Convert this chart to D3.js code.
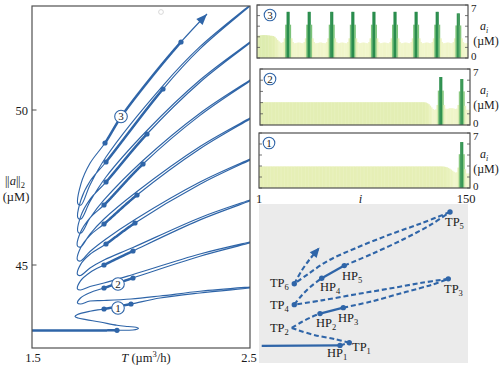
<!DOCTYPE html>
<html><head><meta charset="utf-8">
<script src="https://cdn.jsdelivr.net/npm/d3@7/dist/d3.min.js"></script>
<style>
html,body{margin:0;padding:0;background:#fff;}
svg{display:block;}
text{font-family:"Liberation Serif","Times New Roman",serif;fill:#1a1a1a;}
</style></head><body>
<svg id="chart" width="503" height="368"></svg>
<script>
// ---------------- DATA ----------------
// Main bifurcation curve: [T (um^3/h), ||a||_2 (uM)], in order along the branch
const branchPoints = [
[1.5,42.887],[1.7202,42.887],[1.8899,42.894],[1.9633,42.903],[1.9817,42.926],[1.9885,42.958],[1.9771,42.990],[1.9404,43.016],[1.8899,43.055],[1.8119,43.161],[1.7477,43.239],[1.7110,43.290],[1.6972,43.339],[1.7087,43.403],[1.7661,43.510],[1.8303,43.581],[1.9541,43.742],[2.0872,43.935],[2.2706,44.097],[2.5,44.258],[2.555,44.303],
[2.555,44.319],[2.5,44.290],[2.2706,44.152],[2.0872,44.0],[1.9541,43.903],[1.8303,43.855],[1.7661,43.839],[1.7225,43.742],[1.7087,43.774],
[1.7225,43.935],[1.7661,44.106],[1.8303,44.258],[1.9633,44.581],[2.2706,45.284],[2.5,45.710],[2.555,45.813],
[2.555,45.829],[2.5,45.742],[2.2706,45.355],[1.9633,44.694],[1.8303,44.419],[1.7661,44.306],[1.7225,44.194],[1.7087,44.226],
[1.7225,44.487],[1.7661,44.758],[1.8303,45.0],[1.9633,45.452],[2.2706,46.455],[2.5,47.065],[2.555,47.210],
[2.555,47.226],[2.5,47.097],[2.2706,46.526],[1.9633,45.565],[1.8303,45.161],[1.7661,44.903],[1.7225,44.661],[1.7087,44.694],
[1.7225,45.013],[1.7661,45.345],[1.8394,45.677],[1.9725,46.355],[2.2706,47.606],[2.5,48.387],[2.555,48.574],
[2.555,48.590],[2.5,48.419],[2.2706,47.677],[1.9725,46.468],[1.8394,45.839],[1.7661,45.435],[1.7225,45.129],[1.7087,45.161],
[1.7225,45.552],[1.7661,45.958],[1.8303,46.323],[1.9817,47.258],[2.2706,48.752],[2.5,49.710],[2.555,49.939],
[2.555,49.955],[2.5,49.742],[2.2706,48.823],[1.9817,47.371],[1.8303,46.484],[1.7661,46.0],[1.7225,45.581],[1.7087,45.613],
[1.7225,46.058],[1.7661,46.523],[1.8303,46.935],[2.0092,48.258],[2.2706,49.826],[2.5,50.935],[2.555,51.203],
[2.555,51.219],[2.5,50.968],[2.2706,49.897],[2.0092,48.371],[1.8303,47.097],[1.7661,46.516],[1.7248,46.032],[1.7110,46.065],
[1.7248,46.594],[1.7661,47.119],[1.8394,47.677],[2.0275,49.226],[2.2706,50.897],[2.5,52.161],[2.555,52.465],
[2.555,52.481],[2.5,52.194],[2.2706,50.968],[2.0275,49.339],[1.8394,47.839],[1.7661,47.048],[1.7248,46.484],[1.7110,46.516],
[1.7248,47.106],[1.7661,47.700],[1.8394,48.323],[2.1009,50.677],[2.2706,51.971],[2.5,53.355],[2.555,53.687],
[2.555,53.703],[2.5,53.387],[2.2706,52.042],[2.1009,50.790],[1.8394,48.484],[1.7661,47.581],[1.7248,46.935],[1.7110,46.968],
[1.7248,47.623],[1.7661,48.281],[1.8349,48.935],[1.9083,49.774],[2.0413,51.0],[2.1835,52.194],[2.3028,53.097]
];
const stableStart = [1.5, 42.887];
const hopfBottom = [1.8899, 42.894];
const hopfLow  = [[1.8303,43.581],[1.8303,44.258],[1.8303,45.0],[1.8394,45.677],[1.8303,46.323],[1.8303,46.935],[1.8394,47.677],[1.8394,48.323],[1.8349,48.935]];
const hopfHigh = [[1.9541,43.742],[1.9633,44.581],[1.9633,45.452],[1.9725,46.355],[1.9817,47.258],[2.0092,48.258],[2.0275,49.226],[2.1009,50.677],[2.1835,52.194]];
const circledMain = [{n:"1",p:[1.8945,43.613]},{n:"2",p:[1.8945,44.387]},{n:"3",p:[1.9083,49.790]}];
const yTickValues = [45, 50];
const xTickValues = [1.5, 2.5];

// Concentration profiles a_i (uM), i = 1..150
const state3 = [2.95,2.97,3.0,3.02,3.03,3.03,3.02,3.0,2.98,2.95,2.93,2.9,
 2.8,2.6,2.4,2.2,2.05,1.98,
 2.1,2.6,4.4,6.1,6.1,4.4,2.6,2.1,
 1.95,1.97,2.02,2.05,2.02,1.97,1.95,
 2.1,2.6,4.4,6.1,6.1,4.4,2.6,2.1,
 1.95,1.97,2.0,2.05,2.05,2.0,1.97,1.95,
 2.1,2.6,4.4,6.1,6.1,4.4,2.6,2.1,
 1.95,1.97,2.02,2.05,2.02,1.97,1.95,
 2.1,2.6,4.4,6.1,6.1,4.4,2.6,2.1,
 1.95,1.97,2.02,2.05,2.02,1.97,1.95,
 2.1,2.6,4.4,6.1,6.1,4.4,2.6,2.1,
 1.95,1.97,2.02,2.05,2.02,1.97,1.95,
 2.1,2.6,4.4,6.1,6.1,4.4,2.6,2.1,
 1.95,1.97,2.02,2.05,2.02,1.97,1.95,
 2.1,2.6,4.4,6.1,6.1,4.4,2.6,2.1,
 1.95,1.97,2.02,2.05,2.02,1.97,1.95,
 2.1,2.6,4.4,6.1,6.1,4.4,2.6,2.1,
 1.95,1.97,2.02,2.05,2.02,1.97,1.95,
 2.1,2.6,4.3,5.9,5.9,4.3,2.6,2.1,
 1.95,1.95,1.95];
const state2 = [2.85,2.85,2.85,2.85,2.85,2.85,2.85,2.85,2.85,2.85,
 2.85,2.85,2.85,2.85,2.85,2.85,2.85,2.85,2.85,2.85,
 2.85,2.85,2.85,2.85,2.85,2.85,2.85,2.85,2.85,2.85,
 2.85,2.85,2.85,2.85,2.85,2.85,2.85,2.85,2.85,2.85,
 2.85,2.85,2.85,2.85,2.85,2.85,2.85,2.85,2.85,2.85,
 2.85,2.85,2.85,2.85,2.85,2.85,2.85,2.85,2.85,2.85,
 2.85,2.85,2.85,2.85,2.85,2.85,2.85,2.85,2.85,2.85,
 2.85,2.85,2.85,2.85,2.85,2.85,2.85,2.85,2.85,2.85,
 2.85,2.85,2.85,2.85,2.85,2.85,2.85,2.85,2.85,2.85,
 2.85,2.85,2.85,2.85,2.85,2.85,2.85,2.85,2.85,2.85,
 2.85,2.85,2.85,2.85,2.85,2.85,2.85,2.85,2.85,2.85,
 2.85,2.85,2.85,2.85,2.85,2.85,2.85,
 2.84,2.8,2.72,2.6,2.42,2.2,2.0,1.9,1.95,2.5,4.3,6.0,6.0,4.3,2.5,2.05,2.0,2.05,2.1,2.1,2.1,2.05,2.0,2.05,2.5,4.2,5.75,5.75,4.2,2.4,1.9,1.9,1.9];
const state1 = [2.75,2.75,2.75,2.75,2.75,2.75,2.75,2.75,2.75,2.75,
 2.75,2.75,2.75,2.75,2.75,2.75,2.75,2.75,2.75,2.75,
 2.75,2.75,2.75,2.75,2.75,2.75,2.75,2.75,2.75,2.75,
 2.75,2.75,2.75,2.75,2.75,2.75,2.75,2.75,2.75,2.75,
 2.75,2.75,2.75,2.75,2.75,2.75,2.75,2.75,2.75,2.75,
 2.75,2.75,2.75,2.75,2.75,2.75,2.75,2.75,2.75,2.75,
 2.75,2.75,2.75,2.75,2.75,2.75,2.75,2.75,2.75,2.75,
 2.75,2.75,2.75,2.75,2.75,2.75,2.75,2.75,2.75,2.75,
 2.75,2.75,2.75,2.75,2.75,2.75,2.75,2.75,2.75,2.75,
 2.75,2.75,2.75,2.75,2.75,2.75,2.75,2.75,2.75,2.75,
 2.75,2.75,2.75,2.75,2.75,2.75,2.75,2.75,2.75,2.75,
 2.75,2.75,2.75,2.75,2.75,2.75,2.75,2.75,2.75,2.75,
 2.75,2.75,2.75,2.75,2.75,2.75,2.75,2.75,2.75,2.75,
 2.74,2.72,2.69,2.64,2.56,2.46,2.34,2.2,2.07,1.97,2.0,2.6,4.3,5.85,5.85,4.3,2.4,1.85,1.85,1.85];
const profileTicks = [0, 1.4, 2.8, 4.2, 5.6, 7];
const profileTickLabels = [0, 7];
const indexLabels = ["1", "150"];

// Schematic inset (unit box 0..100)
const insetSolid = [
 [[1.3,10.8],[38.76,11.06]],
 [[29.19,31.06],[40.33,34.81]],
 [[30.0,53.31],[40.81,61.25]]
];
const insetDashed = [
 [[38.76,11.06],[43.2,12.69]],
 [[43.2,12.69],[36.36,15.0],[26.79,17.5],[18.8,20.6],[15.65,22.06]],
 [[15.65,22.06],[20.43,25.81],[25.22,28.94],[29.19,31.06]],
 [[40.33,34.81],[53.92,38.75],[69.86,44.56],[82.63,49.19],[90.57,52.94]],
 [[90.57,52.94],[77.85,50.44],[61.87,46.69],[45.93,43.13],[30.0,39.38],[16.89,36.69]],
 [[16.89,36.69],[20.43,42.5],[24.4,47.69],[30.0,53.31]],
 [[40.81,61.25],[53.92,68.56],[69.86,78.31],[82.63,87.31],[91.39,95.0]],
 [[91.39,95.0],[77.85,87.94],[61.87,80.44],[45.93,72.06],[33.16,64.38],[23.59,56.06],[16.89,49.81]],
 [[16.89,49.81],[20.43,58.13],[24.4,65.44],[28.37,71.69]]
];
const insetDots = [[43.2,12.69],[38.76,11.06],[29.19,31.06],[40.33,34.81],[90.57,52.94],[16.89,36.69],[30.0,53.31],[40.81,61.25],[91.39,95.0],[16.89,49.81]];
const insetLabels = [
 {b:"TP",s:"1",p:[44.5,7.5]},{b:"HP",s:"1",p:[32.5,3.75]},{b:"TP",s:"2",p:[5.26,19.38]},
 {b:"HP",s:"2",p:[27.27,22.5]},{b:"HP",s:"3",p:[37.8,25.63]},{b:"TP",s:"3",p:[88.52,43.75]},
 {b:"TP",s:"4",p:[5.26,33.75]},{b:"HP",s:"4",p:[29.19,45.0]},{b:"HP",s:"5",p:[39.71,52.5]},
 {b:"TP",s:"5",p:[89.0,86.25]},{b:"TP",s:"6",p:[5.26,47.5]}
];

// ---------------- DRAW ----------------
const svg = d3.select("#chart");
const BLUE = "#2f65a8";
const FRAME = "#505050";

// ===== main plot =====
const xMain = d3.scaleLinear().domain([1.5, 2.5]).range([32, 250]);
const yMain = d3.scaleLinear().domain([45, 50]).range([265, 110]);
const box = {x0: 32, x1: 250, y0: 6, y1: 348};
svg.append("defs").append("clipPath").attr("id", "clipMain")
  .append("rect").attr("x", box.x0).attr("y", box.y0).attr("width", box.x1 - box.x0).attr("height", box.y1 - box.y0);

const gMain = svg.append("g");
const gClip = gMain.append("g").attr("clip-path", "url(#clipMain)");
const lineMain = d3.line().x(d => xMain(d[0])).y(d => yMain(d[1])).curve(d3.curveCatmullRom.alpha(0.5));
const mainPath = gClip.append("path").datum(branchPoints).attr("d", lineMain)
  .attr("fill", "none").attr("stroke", BLUE).attr("stroke-width", 1.15).attr("stroke-linejoin", "round");

// sample path for thick (stable) overlays
const node = mainPath.node();
const totalLen = node.getTotalLength();
const samples = [];
for (let s = 0; s <= totalLen; s += 0.4) { const p = node.getPointAtLength(s); samples.push([p.x, p.y]); }
function nearestIdx(px, py) {
  let bi = 0, bd = Infinity;
  for (let i = 0; i < samples.length; i++) {
    const dx = samples[i][0] - px, dy = samples[i][1] - py, d = dx*dx + dy*dy;
    if (d < bd) { bd = d; bi = i; }
  }
  return bi;
}
const stableSegs = [[stableStart, hopfBottom]].concat(hopfLow.map((d, i) => [d, hopfHigh[i]]));
stableSegs.forEach(seg => {
  const a = nearestIdx(xMain(seg[0][0]), yMain(seg[0][1]));
  const b = nearestIdx(xMain(seg[1][0]), yMain(seg[1][1]));
  const pts = samples.slice(Math.min(a, b), Math.max(a, b) + 1);
  gClip.append("path").attr("d", d3.line()(pts)).attr("fill", "none")
    .attr("stroke", BLUE).attr("stroke-width", 2.5).attr("stroke-linecap", "round");
});

// arrow head at end of branch
{
  const end = node.getPointAtLength(totalLen), prev = node.getPointAtLength(totalLen - 5);
  let dx = end.x - prev.x, dy = end.y - prev.y; const n = Math.hypot(dx, dy); dx /= n; dy /= n;
  const L = 11, w = 4.3;
  const bx = end.x - dx * L, by = end.y - dy * L;
  gMain.append("path").attr("d", `M${end.x},${end.y}L${bx - dy * w},${by + dx * w}L${bx + dy * w},${by - dx * w}Z`).attr("fill", BLUE);
}

// dots
const allHopf = [hopfBottom].concat(hopfLow, hopfHigh);
gMain.selectAll("circle.hp").data(allHopf).join("circle").attr("class", "hp")
  .attr("cx", d => xMain(d[0])).attr("cy", d => yMain(d[1])).attr("r", 2.6).attr("fill", BLUE);

// circled labels
circledMain.forEach(c => {
  const g = gMain.append("g").attr("transform", `translate(${xMain(c.p[0])},${yMain(c.p[1])})`);
  g.append("circle").attr("r", 6.3).attr("fill", "#fff").attr("stroke", BLUE).attr("stroke-width", 1.1);
  g.append("text").attr("text-anchor", "middle").attr("dy", "0.36em").attr("font-size", 11).text(c.n);
});

// faint marker near top
svg.append("circle").attr("cx", 161).attr("cy", 12).attr("r", 2.4).attr("fill", "none").attr("stroke", "#cfcfcf").attr("stroke-width", 0.8);

// frame
gMain.append("rect").attr("x", box.x0).attr("y", box.y0).attr("width", box.x1 - box.x0).attr("height", box.y1 - box.y0)
  .attr("fill", "none").attr("stroke", FRAME).attr("stroke-width", 1.2);
// y ticks
yTickValues.forEach(v => {
  gMain.append("line").attr("x1", box.x0).attr("x2", box.x0 + 4.5).attr("y1", yMain(v)).attr("y2", yMain(v)).attr("stroke", FRAME).attr("stroke-width", 1);
  gMain.append("text").attr("x", box.x0 - 4).attr("y", yMain(v) + 4.5).attr("text-anchor", "end").attr("font-size", 12.5).text(v);
});
xTickValues.forEach(v => {
  gMain.append("text").attr("x", xMain(v) + (v === 2.5 ? -1 : 1)).attr("y", 362).attr("text-anchor", "middle").attr("font-size", 12.5).text(v.toFixed(1));
});
// axis titles
{
  const t = gMain.append("text").attr("x", 146).attr("y", 362).attr("text-anchor", "middle").attr("font-size", 12.5);
  t.append("tspan").attr("font-style", "italic").text("T");
  t.append("tspan").text(" (µm");
  t.append("tspan").attr("font-size", 8.5).attr("dy", -5).text("3");
  t.append("tspan").attr("dy", 5).text("/h)");
  const y1 = gMain.append("text").attr("x", 15).attr("y", 185).attr("text-anchor", "middle").attr("font-size", 12.5);
  y1.append("tspan").attr("letter-spacing", -0.5).text("||");
  y1.append("tspan").attr("font-style", "italic").attr("dx", 0.8).text("a");
  y1.append("tspan").attr("letter-spacing", -0.5).text("||");
  y1.append("tspan").attr("font-size", 8.5).attr("dx", 0.8).attr("dy", 3).text("2");
  gMain.append("text").attr("x", 16).attr("y", 201).attr("text-anchor", "middle").attr("font-size", 12.5).text("(µM)");
}

// ===== profile panels =====
const barColor = d3.scaleLinear().domain([1.8, 2.8, 3.5, 4.4, 6.1])
  .range(["#f3f7d0", "#e5efb5", "#cde6a2", "#7bc27a", "#2a8d4d"]);
const panels = [
  {vals: state3, lab: "3", x0: 257, x1: 468, y0: 5, y1: 58},
  {vals: state2, lab: "2", x0: 260, x1: 470, y0: 69, y1: 125},
  {vals: state1, lab: "1", x0: 259, x1: 470, y0: 133, y1: 188}
];
panels.forEach(P => {
  const g = svg.append("g");
  const xb = d3.scaleBand().domain(d3.range(1, P.vals.length + 1)).range([P.x0, P.x1]).padding(0);
  const yp = d3.scaleLinear().domain([0, 7]).range([P.y1, P.y0]);
  g.selectAll("rect.bar").data(P.vals).join("rect").attr("class", "bar")
    .attr("x", (d, i) => xb(i + 1)).attr("width", xb.bandwidth() + 0.35)
    .attr("y", d => yp(d)).attr("height", d => yp(0) - yp(d))
    .attr("fill", d => barColor(d));
  g.append("rect").attr("x", P.x0).attr("y", P.y0).attr("width", P.x1 - P.x0).attr("height", P.y1 - P.y0)
    .attr("fill", "none").attr("stroke", FRAME).attr("stroke-width", 1.2);
  profileTicks.forEach(v => {
    g.append("line").attr("x1", P.x0).attr("x2", P.x0 + 3).attr("y1", yp(v)).attr("y2", yp(v)).attr("stroke", FRAME).attr("stroke-width", 0.8);
    g.append("line").attr("x1", P.x1).attr("x2", P.x1 - 3).attr("y1", yp(v)).attr("y2", yp(v)).attr("stroke", FRAME).attr("stroke-width", 0.8);
  });
  profileTickLabels.forEach(v => {
    g.append("text").attr("x", P.x1 + 3).attr("y", yp(v) + (v === 7 ? 6.5 : 2)).attr("font-size", 11).text(v);
  });
  const at = g.append("text").attr("x", 484).attr("y", P.y0 + 25).attr("text-anchor", "middle").attr("font-size", 12);
  at.append("tspan").attr("font-style", "italic").text("a");
  at.append("tspan").attr("font-style", "italic").attr("font-size", 8).attr("dy", 2.5).text("i");
  g.append("text").attr("x", 486).attr("y", P.y0 + 39.5).attr("text-anchor", "middle").attr("font-size", 12).text("(µM)");
  const c = g.append("g").attr("transform", `translate(${P.x0 + (P.lab === "3" ? 13 : 10)},${P.y0 + 10})`);
  c.append("circle").attr("r", 5.8).attr("fill", "#fff").attr("stroke", BLUE).attr("stroke-width", 1.1);
  c.append("text").attr("text-anchor", "middle").attr("dy", "0.36em").attr("font-size", 11).text(P.lab);
});
// index axis labels under bottom panel
{
  const P = panels[2];
  svg.append("text").attr("x", P.x0).attr("y", 203).attr("text-anchor", "middle").attr("font-size", 12.5).text(indexLabels[0]);
  svg.append("text").attr("x", P.x1 - 4).attr("y", 203).attr("text-anchor", "middle").attr("font-size", 12.5).text(indexLabels[1]);
  svg.append("text").attr("x", (P.x0 + P.x1) / 2 - 4).attr("y", 203).attr("text-anchor", "middle").attr("font-size", 12.5).attr("font-style", "italic").text("i");
}

// ===== schematic inset =====
const xIn = d3.scaleLinear().domain([0, 100]).range([259, 468]);
const yIn = d3.scaleLinear().domain([0, 100]).range([363, 204]);
const gIn = svg.append("g");
gIn.append("rect").attr("x", xIn(0)).attr("y", yIn(100)).attr("width", xIn(100) - xIn(0)).attr("height", yIn(0) - yIn(100)).attr("fill", "#ebebeb");
const lineIn = d3.line().x(d => xIn(d[0])).y(d => yIn(d[1])).curve(d3.curveCatmullRom.alpha(0.5));
insetDashed.forEach(seg => {
  gIn.append("path").attr("d", lineIn(seg)).attr("fill", "none").attr("stroke", BLUE)
    .attr("stroke-width", 2.1).attr("stroke-dasharray", "5,2.8");
});
insetSolid.forEach(seg => {
  gIn.append("path").attr("d", lineIn(seg)).attr("fill", "none").attr("stroke", BLUE).attr("stroke-width", 2.3);
});
{
  const seg = insetDashed[insetDashed.length - 1];
  const a = seg[seg.length - 2], b = seg[seg.length - 1];
  const ex = xIn(b[0]), ey = yIn(b[1]);
  let dx = ex - xIn(a[0]), dy = ey - yIn(a[1]); const n = Math.hypot(dx, dy); dx /= n; dy /= n;
  const L = 10, w = 4.5, tx = ex + dx * 2, ty = ey + dy * 2;
  const bx = tx - dx * L, by = ty - dy * L;
  gIn.append("path").attr("d", `M${tx},${ty}L${bx - dy * w},${by + dx * w}L${bx + dy * w},${by - dx * w}Z`).attr("fill", BLUE);
}
gIn.selectAll("circle.d").data(insetDots).join("circle").attr("class", "d")
  .attr("cx", d => xIn(d[0])).attr("cy", d => yIn(d[1])).attr("r", 2.7).attr("fill", BLUE);
insetLabels.forEach(l => {
  const t = gIn.append("text").attr("x", xIn(l.p[0])).attr("y", yIn(l.p[1])).attr("font-size", 12.5);
  t.append("tspan").text(l.b);
  t.append("tspan").attr("font-size", 8.5).attr("dy", 3).text(l.s);
});
</script>
</body></html>
